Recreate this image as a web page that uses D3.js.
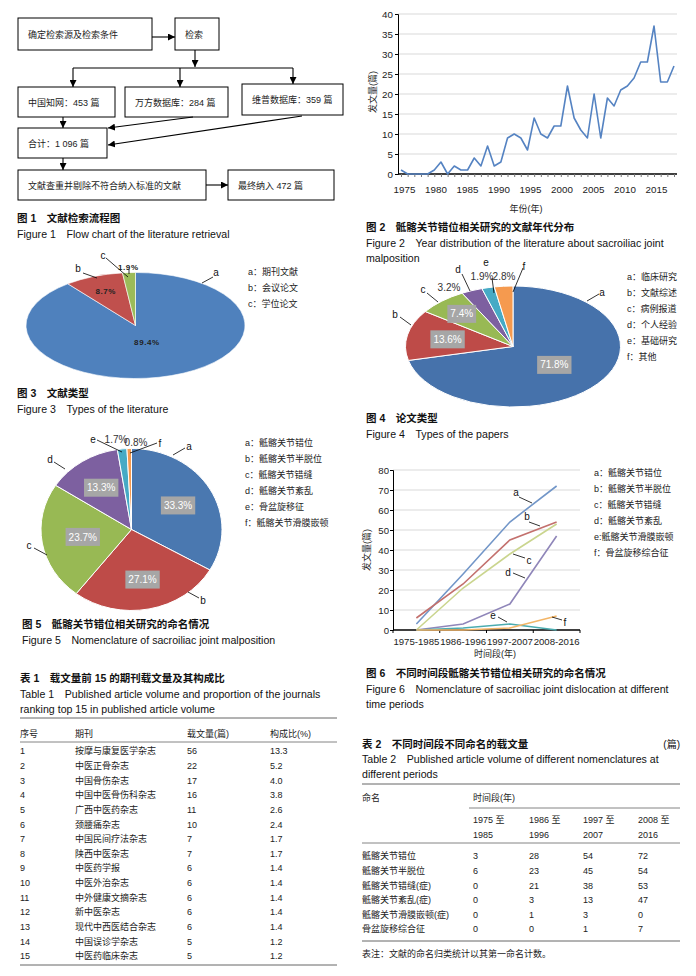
<!DOCTYPE html>
<html>
<head>
<meta charset="utf-8">
<title>骶髂关节错位文献计量</title>
<style>
  body { margin:0; background:#fff; }
  text { font-family:"Liberation Sans","Noto Sans CJK SC",sans-serif; fill:#222; }
</style>
</head>
<body>
<svg id="page" width="696" height="976"></svg>
<script src="https://d3js.org/d3.v7.min.js"></script>
<script>
// ---------- data ----------
const flowSteps = ['确定检索源及检索条件', '检索', '文献查重并剔除不符合纳入标准的文献'];
const dbNames = ['中国知网', '万方数据库', '维普数据库'];
const dbCounts = [453, 284, 359];
const totalCount = '1 096';
const finalCount = 472;

const years = d3.range(1975, 2017);
const yearCounts = [1,0,0,0,0,1,3,0,2,1,1,4,2,7,2,3,9,10,9,6,14,10,9,12,12,22,14,11,9,20,9,19,17,21,22,24,28,28,37,23,23,27];

const litTypes = ['期刊文献', '会议论文', '学位论文'];
const litShare = [89.4, 8.7, 1.9];

const paperTypes = ['临床研究', '文献综述', '病例报道', '个人经验', '基础研究', '其他'];
const paperShare = [71.8, 13.6, 7.4, 3.2, 1.9, 2.8];

const nameTypes = ['骶髂关节错位', '骶髂关节半脱位', '骶髂关节错缝', '骶髂关节紊乱', '骨盆旋移征', '骶髂关节滑膜嵌顿'];
const nameShare = [33.3, 27.1, 23.7, 13.3, 1.7, 0.8];

const periods = ['1975-1985', '1986-1996', '1997-2007', '2008-2016'];
const periodNames = ['骶髂关节错位', '骶髂关节半脱位', '骶髂关节错缝', '骶髂关节紊乱', '骶髂关节滑膜嵌顿', '骨盆旋移综合征'];
const periodCounts = [
  [3, 28, 54, 72],
  [6, 23, 45, 54],
  [0, 21, 38, 53],
  [0, 3, 13, 47],
  [0, 1, 3, 0],
  [0, 0, 1, 7]
];

const journals = ['按摩与康复医学杂志','中医正骨杂志','中国骨伤杂志','中国中医骨伤科杂志','广西中医药杂志','颈腰痛杂志','中国民间疗法杂志','陕西中医杂志','中医药学报','中医外治杂志','中外健康文摘杂志','新中医杂志','现代中西医结合杂志','中国误诊学杂志','中医药临床杂志'];
const journalCounts = [56, 22, 17, 16, 11, 10, 7, 7, 6, 6, 6, 6, 6, 5, 5];
const journalShare = ['13.3','5.2','4.0','3.8','2.6','2.4','1.7','1.7','1.4','1.4','1.4','1.4','1.4','1.2','1.2'];

const table2Names = ['骶髂关节错位','骶髂关节半脱位','骶髂关节错缝(症)','骶髂关节紊乱(症)','骶髂关节滑膜嵌顿(症)','骨盆旋移综合征'];
const table2Heads = [['1975 至','1985'], ['1986 至','1996'], ['1997 至','2007'], ['2008 至','2016']];

const letters = ['a', 'b', 'c', 'd', 'e', 'f'];
const pieColors = ['#4f81bd', '#c0504d', '#9bbb59', '#8064a2', '#4bacc6', '#f79646'];
const lineColors = ['#7296c8', '#c3706d', '#cad58e', '#8f86b9', '#4bacb0', '#f3b567'];

// ---------- helpers ----------
const svg = d3.select('#page');
svg.append('rect').attr('width', 696).attr('height', 976).attr('fill', '#fff');

function txt(x, y, s, o) {
  o = o || {};
  return svg.append('text').attr('x', x).attr('y', y).text(s)
    .attr('font-size', o.size || 9)
    .attr('font-weight', o.bold ? 'bold' : null)
    .attr('text-anchor', o.anchor || 'start')
    .style('fill', o.fill || '#222');
}
function line(x1, y1, x2, y2, w, c) {
  return svg.append('line').attr('x1', x1).attr('y1', y1).attr('x2', x2).attr('y2', y2)
    .attr('stroke', c || '#000').attr('stroke-width', w || 1);
}
function caption(x, y, zh, en) {
  txt(x, y, zh, {size: 10.5, bold: true, fill: '#111'});
  en.forEach((s, i) => txt(x, y + 16 + i * 15, s, {size: 10.6, fill: '#111'}));
}
function polar(cx, cy, rx, ry, a, r) {
  return [cx + rx * r * Math.sin(a), cy - ry * r * Math.cos(a)];
}
function pieChart(cx, cy, rx, ry, values, colors, sw) {
  const arcs = d3.pie().sort(null).value(d => d)(values);
  const g = svg.append('g').attr('transform', `translate(${cx},${cy}) scale(1,${ry / rx})`);
  g.selectAll('path').data(arcs).join('path')
    .attr('d', d3.arc().innerRadius(0).outerRadius(rx))
    .attr('fill', (d, i) => colors[i])
    .attr('stroke', '#fff').attr('stroke-width', sw)
    .attr('vector-effect', 'non-scaling-stroke');
  return arcs;
}
function boxLabel(x, y, s) {
  const g = svg.append('g');
  const r = g.append('rect').attr('fill', '#a6a6a6');
  const t = g.append('text').attr('x', x).attr('y', y + 3.6).attr('text-anchor', 'middle')
    .attr('font-size', 10).style('fill', '#fff').text(s);
  const w = t.node().getComputedTextLength() + 6;
  r.attr('x', x - w / 2).attr('y', y - 9).attr('width', w).attr('height', 18);
}
function leaders(list) {
  list.forEach(d => {
    line(d[0], d[1], d[2], d[3], 0.8, '#000');
    txt(d[4], d[5] + 3.5, d[6], {size: 10, anchor: 'middle', fill: '#111'});
  });
}
function legend(x, y, items, sep) {
  items.forEach((s, i) => txt(x, y + i * 16 + 3.2, letters[i] + (sep || '：') + s, {size: 9}));
}

// arrow marker
svg.append('defs').append('marker').attr('id', 'arr')
  .attr('viewBox', '0 0 10 10').attr('refX', 10).attr('refY', 5)
  .attr('markerWidth', 7).attr('markerHeight', 7).attr('markerUnits', 'userSpaceOnUse')
  .attr('orient', 'auto')
  .append('path').attr('d', 'M0,0L10,5L0,10Z').attr('fill', '#000');
function arrow(x1, y1, x2, y2) {
  line(x1, y1, x2, y2, 1.1).attr('marker-end', 'url(#arr)');
}

// ---------- Figure 1: flow chart ----------
const flowBoxes = [
  {t: flowSteps[0], x: 18, y: 18, w: 134, h: 32},
  {t: flowSteps[1], x: 175, y: 18, w: 44, h: 32},
  {t: dbNames[0] + '：' + dbCounts[0] + ' 篇', x: 18, y: 87, w: 97, h: 30},
  {t: dbNames[1] + '：' + dbCounts[1] + ' 篇', x: 125, y: 87, w: 103, h: 30},
  {t: dbNames[2] + '：' + dbCounts[2] + ' 篇', x: 242, y: 84, w: 101, h: 31},
  {t: '合计：' + totalCount + ' 篇', x: 18, y: 128, w: 89, h: 30},
  {t: flowSteps[2], x: 18, y: 170, w: 188, h: 30},
  {t: '最终纳入 ' + finalCount + ' 篇', x: 228, y: 170, w: 106, h: 30}
];
flowBoxes.forEach(b => {
  svg.append('rect').attr('x', b.x).attr('y', b.y).attr('width', b.w).attr('height', b.h)
    .attr('fill', '#fff').attr('stroke', '#000').attr('stroke-width', 1);
  txt(b.x + 10, b.y + b.h / 2 + 3.5, b.t, {size: 9});
});
arrow(152, 37, 175, 37);
arrow(195, 50, 195, 67);
line(73, 68, 293, 68, 1.1);
arrow(73, 68, 73, 87);
arrow(180, 68, 180, 87);
arrow(293, 68, 293, 84);
arrow(63, 117, 63, 128);
arrow(193, 117, 108, 128);
arrow(302, 116, 108, 145);
arrow(63, 158, 63, 170);
arrow(206, 185, 228, 185);
caption(17, 222, '图 1　文献检索流程图', ['Figure 1　Flow chart of the literature retrieval']);

// ---------- Figure 2: year distribution ----------
{
  const x = d3.scaleLinear().domain([1975, 2016]).range([401, 674]);
  const xLab = d3.scaleLinear().domain([1975, 2015]).range([404, 656]);
  const y = d3.scaleLinear().domain([0, 40]).range([174, 14]);
  const g = svg.append('g');
  g.selectAll('.grid').data(d3.range(5, 41, 5)).join('line')
    .attr('x1', 398).attr('x2', 677).attr('y1', d => y(d)).attr('y2', d => y(d))
    .attr('stroke', '#d9d9d9').attr('stroke-width', 1);
  g.append('g').attr('transform', 'translate(398,0)')
    .call(d3.axisLeft(y).tickValues(d3.range(0, 41, 5)).tickSize(3).tickPadding(2));
  const xa = g.append('g').attr('transform', 'translate(0,174)')
    .call(d3.axisBottom(x).tickValues(years).tickSize(3).tickFormat(''));
  xa.select('.domain').attr('d', 'M398,0H677').attr('stroke-width', 1.6);
  xa.selectAll('.tick line').attr('stroke', '#777');
  g.append('g').attr('transform', 'translate(0,174)')
    .call(d3.axisBottom(xLab).tickValues(d3.range(1975, 2016, 5)).tickFormat(d3.format('d')).tickSize(0).tickPadding(12.5))
    .call(a => a.select('.domain').remove());
  g.selectAll('.tick text').attr('font-size', 9.8).attr('font-family', '"Liberation Sans",sans-serif').style('fill', '#222');
  g.append('path').datum(yearCounts)
    .attr('fill', 'none').attr('stroke', '#5583c2').attr('stroke-width', 1.6).attr('stroke-linejoin', 'round')
    .attr('d', d3.line().x((d, i) => x(years[i])).y(d => y(d)));
  txt(0, 0, '发文量(篇)', {size: 9, anchor: 'middle'}).attr('transform', 'translate(376,92) rotate(-90)');
  txt(526, 212, '年份(年)', {size: 9, anchor: 'middle'});
}
caption(366, 231, '图 2　骶髂关节错位相关研究的文献年代分布',
  ['Figure 2　Year distribution of the literature about sacroiliac joint', 'malposition']);

// ---------- Figure 3: literature types ----------
{
  const cx = 135.5, cy = 325.5, rx = 109.5, ry = 53;
  const arcs = pieChart(cx, cy, rx, ry, litShare, pieColors, 0.6);
  const rf = [0.32, 0.71, 1.10];
  arcs.forEach((a, i) => {
    const p = polar(cx, cy, rx, ry, (a.startAngle + a.endAngle) / 2, rf[i]);
    txt(p[0], p[1] + 3, litShare[i] + '%', {size: 8, bold: true, anchor: 'middle', fill: '#222'})
      .attr('font-family', '"DejaVu Sans",sans-serif').attr('letter-spacing', 0.6);
  });
  line(129, 269, 129, 274, 0.8);
  leaders([
    [202, 283, 213, 277, 216, 272, 'a'],
    [83, 273, 97, 278, 78, 268, 'b'],
    [106, 258, 128, 277, 103, 255, 'c']
  ]);
  legend(248, 272, litTypes);
}
caption(17, 397, '图 3　文献类型', ['Figure 3　Types of the literature']);

// ---------- Figure 4: paper types ----------
{
  const cx = 513, cy = 346.5, rx = 107.5, ry = 60.5;
  const arcs = pieChart(cx, cy, rx, ry, paperShare, ['#4672ab', '#be4b48', '#98b954', '#7d60a0', '#46aac5', '#f59a4f'], 1);
  const rf = [0.49, 0.62, 0.72];
  arcs.slice(0, 3).forEach((a, i) => {
    const p = polar(cx, cy, rx, ry, (a.startAngle + a.endAngle) / 2, rf[i]);
    boxLabel(p[0], p[1], paperShare[i] + '%');
  });
  txt(449, 291, paperShare[3] + '%', {size: 10, anchor: 'middle', fill: '#333'});
  txt(482, 280, paperShare[4] + '%', {size: 10, anchor: 'middle', fill: '#333'});
  txt(504, 280, paperShare[5] + '%', {size: 10, anchor: 'middle', fill: '#333'});
  leaders([
    [587, 301, 599, 294, 602, 292, 'a'],
    [400, 317, 411, 325, 395, 314, 'b'],
    [427, 293, 438, 302, 423, 289, 'c'],
    [462, 274, 470, 291, 458, 269, 'd'],
    [492, 278, 494, 293, 486, 262, 'e'],
    [523, 268, 513, 292, 524, 266, 'f']
  ]);
  legend(627, 277, paperTypes);
}
caption(366, 422, '图 4　论文类型', ['Figure 4　Types of the papers']);

// ---------- Figure 5: nomenclature ----------
{
  const cx = 131.5, cy = 529.5, rx = 90.5, ry = 81;
  const arcs = pieChart(cx, cy, rx, ry, nameShare, ['#4a78b0', '#be4b48', '#98b954', '#7d60a0', '#46aac5', '#f59a4f'], 1);
  const rf = [0.594, 0.63, 0.546, 0.615];
  arcs.slice(0, 4).forEach((a, i) => {
    const p = polar(cx, cy, rx, ry, (a.startAngle + a.endAngle) / 2, rf[i]);
    boxLabel(p[0], p[1], nameShare[i] + '%');
  });
  txt(116, 443, nameShare[4] + '%', {size: 10, anchor: 'middle', fill: '#333'});
  txt(136, 446, nameShare[5] + '%', {size: 10, anchor: 'middle', fill: '#333'});
  leaders([
    [173, 455, 185, 448, 189, 446, 'a'],
    [188, 592, 199, 598, 203, 600, 'b'],
    [34, 548, 47, 555, 29, 545, 'c'],
    [54, 462, 65, 469, 50, 459, 'd'],
    [97, 440, 122, 452, 93, 439, 'e'],
    [157, 443, 130, 453, 160, 443, 'f']
  ]);
  legend(245, 443, nameTypes);
}
caption(22, 628, '图 5　骶髂关节错位相关研究的命名情况', ['Figure 5　Nomenclature of sacroiliac joint malposition']);

// ---------- Figure 6: nomenclature by period ----------
{
  const x = d3.scaleBand().domain(periods).range([393, 580]);
  const y = d3.scaleLinear().domain([0, 80]).range([630, 470]);
  const g = svg.append('g');
  g.selectAll('.grid').data(d3.range(10, 81, 10)).join('line')
    .attr('x1', 393).attr('x2', 580).attr('y1', d => y(d)).attr('y2', d => y(d))
    .attr('stroke', '#d9d9d9').attr('stroke-width', 1);
  g.append('g').attr('transform', 'translate(393,0)')
    .call(d3.axisLeft(y).tickValues(d3.range(0, 81, 10)).tickSize(3).tickPadding(1));
  const xa = g.append('g').attr('transform', 'translate(0,630)')
    .call(d3.axisBottom(x).tickSize(0).tickPadding(8.5));
  xa.select('.domain').attr('d', 'M393,0H580').attr('stroke-width', 1.4);
  xa.selectAll('.bt').data(periods.concat(['end'])).join('line')
    .attr('x1', (d, i) => 393 + i * x.step()).attr('x2', (d, i) => 393 + i * x.step())
    .attr('y1', 0).attr('y2', 3).attr('stroke', '#000');
  g.selectAll('.tick text').attr('font-size', 9.6).attr('font-family', '"Liberation Sans",sans-serif').style('fill', '#222');
  const ln = d3.line().x((d, i) => x(periods[i]) + x.bandwidth() / 2).y(d => y(d));
  g.selectAll('.series').data(periodCounts).join('path')
    .attr('fill', 'none').attr('stroke', (d, i) => lineColors[i]).attr('stroke-width', 1.6)
    .attr('d', ln);
  leaders([
    [519, 497, 532, 503, 516, 492, 'a'],
    [529, 522, 540, 526, 527, 516, 'b'],
    [525, 558, 513, 554, 529, 560, 'c'],
    [513, 573, 525, 578, 508, 572, 'd'],
    [498, 617, 507, 622, 493, 615, 'e'],
    [562, 620, 552, 617, 565, 622, 'f']
  ]);
  txt(0, 0, '发文量(篇)', {size: 9, anchor: 'middle'}).attr('transform', 'translate(370,550) rotate(-90)');
  txt(495, 657, '时间段(年)', {size: 9, anchor: 'middle'});
  periodNames.forEach((s, i) => txt(594, 473 + i * 16 + 3.2, letters[i] + (i === 4 ? ':' : '：') + s, {size: 9}));
}
caption(366, 677, '图 6　不同时间段骶髂关节错位相关研究的命名情况',
  ['Figure 6　Nomenclature of sacroiliac joint dislocation at different', 'time periods']);

// ---------- Table 1 ----------
caption(20, 682, '表 1　载文量前 15 的期刊载文量及其构成比',
  ['Table 1　Published article volume and proportion of the journals', 'ranking top 15 in published article volume']);
{
  const cols = [20, 75, 187, 270];
  line(20, 718, 337, 718, 1, '#666');
  line(20, 742, 337, 742, 0.8, '#666');
  line(20, 965, 337, 965, 1, '#666');
  ['序号', '期刊', '载文量(篇)', '构成比(%)'].forEach((s, i) => txt(cols[i], 736.5, s, {size: 9}));
  const rowY = d3.scaleLinear().domain([0, 14]).range([751, 956]);
  journals.forEach((j, i) => {
    const yy = rowY(i) + 3.3;
    txt(cols[0], yy, String(i + 1), {size: 9});
    txt(cols[1], yy, j, {size: 9});
    txt(cols[2], yy, String(journalCounts[i]), {size: 9});
    txt(cols[3], yy, journalShare[i], {size: 9});
  });
}

// ---------- Table 2 ----------
txt(362, 748, '表 2　不同时间段不同命名的载文量', {size: 10.5, bold: true, fill: '#111'});
txt(680, 748, '(篇)', {size: 10, anchor: 'end', fill: '#111'});
txt(362, 763, 'Table 2　Published article volume of different nomenclatures at', {size: 10.6, fill: '#111'});
txt(362, 778, 'different periods', {size: 10.6, fill: '#111'});
{
  const cols = [473, 529, 583, 638];
  line(362, 784, 680, 784, 1, '#666');
  line(469, 808, 680, 808, 0.8, '#666');
  line(362, 843, 680, 843, 0.8, '#666');
  line(362, 941, 680, 941, 1, '#666');
  txt(362, 801, '命名', {size: 9});
  txt(473, 801, '时间段(年)', {size: 9});
  table2Heads.forEach((h, i) => {
    txt(cols[i], 823, h[0], {size: 9});
    txt(cols[i], 838, h[1], {size: 9});
  });
  const rowY = d3.scaleLinear().domain([0, 5]).range([856, 929]);
  table2Names.forEach((n, r) => {
    txt(362, rowY(r) + 3.3, n, {size: 9});
    periodCounts[r].forEach((v, c) => txt(cols[c], rowY(r) + 3.3, String(v), {size: 9}));
  });
  txt(362, 957, '表注：文献的命名归类统计以其第一命名计数。', {size: 9});
}
</script>
</body>
</html>
